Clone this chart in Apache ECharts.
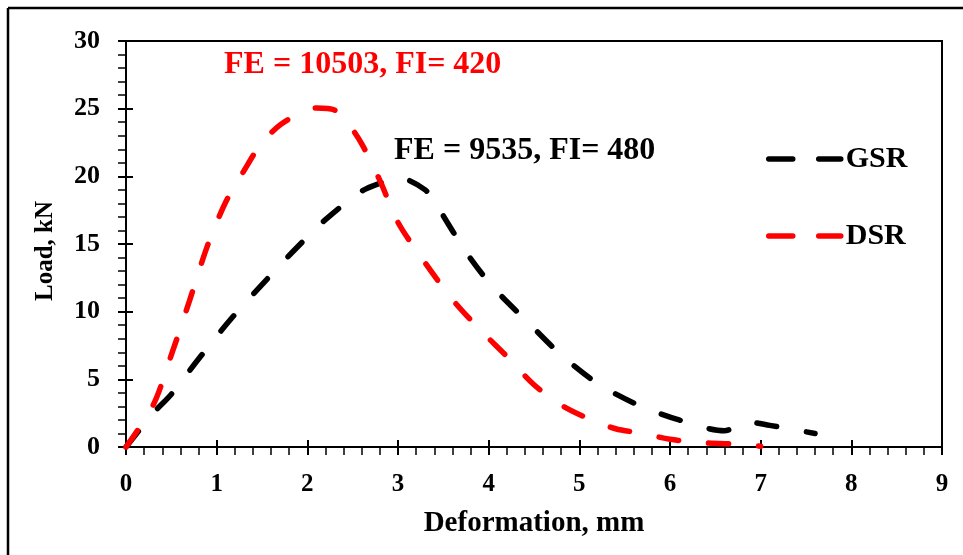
<!DOCTYPE html>
<html>
<head>
<meta charset="UTF-8">
<title>Load vs deformation</title>
<style>
  * { margin: 0; padding: 0; }
  body { background: #fff; }
  #chart { width: 963px; height: 555px; }
</style>
</head>
<body>
<div id="chart"></div>
<script src="https://cdn.jsdelivr.net/npm/echarts@6/dist/echarts.min.js"></script>
<script>
// GSR (black) curve
var gsrX = [0, 0.3, 0.5, 0.8, 1.15, 1.5, 1.85, 2.2, 2.6, 2.85, 3.0, 3.3, 3.45, 3.75, 4.05, 4.45, 4.8, 5.2, 5.65, 6.1, 6.6, 6.85, 7.1, 7.6];
var gsrY = [0, 2.5, 3.9, 6.5, 9.4, 12.0, 14.5, 16.8, 18.9, 19.6, 19.9, 19.0, 17.6, 14.4, 11.8, 9.1, 6.8, 4.7, 3.1, 2.0, 1.2, 1.85, 1.6, 1.0];
// DSR (red) curve
var dsrX = [0, 0.3, 0.5, 0.7, 0.9, 1.1, 1.3, 1.5, 1.7, 1.9, 2.1, 2.3, 2.45, 2.6, 2.8, 3.0, 3.3, 3.6, 3.9, 4.2, 4.5, 4.8, 5.1, 5.4, 5.7, 6.0, 6.4, 6.8, 7.0];
var dsrY = [0, 3.1, 6.8, 10.8, 14.9, 18.1, 20.4, 22.5, 23.8, 24.6, 25.05, 24.9, 23.9, 22.4, 19.7, 16.6, 13.6, 10.9, 8.7, 6.7, 4.6, 3.1, 2.1, 1.35, 1.0, 0.57, 0.3, 0.2, 0.05];

var seriesNames = ['GSR', 'DSR'];
var notes = ['FE = 10503, FI= 420', 'FE = 9535, FI= 480'];

var FONT = "'Liberation Serif', 'Times New Roman', serif";

function pairs(xs, ys) {
  var out = [];
  for (var i = 0; i < xs.length; i++) out.push([xs[i], ys[i]]);
  return out;
}

var chart = echarts.init(document.getElementById('chart'));

var lineCommon = {
  type: 'line',
  smooth: 0.3,
  symbol: 'none',
  xAxisIndex: 0,
  yAxisIndex: 0
};

var option = {
  backgroundColor: '#fff',
  animation: false,
  grid: {
    left: 126, right: 21, top: 41, bottom: 108,
    show: true, borderColor: '#000', borderWidth: 2
  },
  legend: {
    orient: 'vertical',
    left: 761,
    top: 139,
    itemWidth: 72,
    itemHeight: 16,
    itemGap: 47,
    data: seriesNames,
    itemStyle: { opacity: 0 },
    lineStyle: { width: 5.5, type: [24, 26], cap: 'round' },
    textStyle: { fontFamily: FONT, fontWeight: 'bold', fontSize: 30, color: '#000' }
  },
  xAxis: [{
    type: 'value', min: 0, max: 9, interval: 1,
    name: 'Deformation, mm', nameLocation: 'middle', nameGap: 62,
    nameTextStyle: { fontFamily: FONT, fontWeight: 'bold', fontSize: 29, color: '#000' },
    axisLine: { lineStyle: { color: '#000', width: 2 } },
    axisTick: { inside: false, length: 8, lineStyle: { color: '#000', width: 2 } },
    minorTick: { show: true, splitNumber: 5, length: 8, lineStyle: { color: '#000', width: 1.5 } },
    axisLabel: { margin: 25, fontFamily: FONT, fontWeight: 'bold', fontSize: 25, color: '#000' },
    splitLine: { show: false }
  }, {
    // second axis only to draw the inner half of the major ticks
    type: 'value', min: 0, max: 9, interval: 1, position: 'bottom',
    axisLine: { show: false },
    axisTick: { inside: true, length: 7, lineStyle: { color: '#000', width: 2 } },
    axisLabel: { show: false },
    splitLine: { show: false }
  }],
  yAxis: [{
    type: 'value', min: 0, max: 30, interval: 5,
    name: 'Load, kN', nameLocation: 'middle', nameGap: 68,
    nameTextStyle: { fontFamily: FONT, fontWeight: 'bold', fontSize: 25, color: '#000', padding: [0, 14, 0, 0] },
    axisLine: { lineStyle: { color: '#000', width: 2 } },
    axisTick: { inside: false, length: 8, lineStyle: { color: '#000', width: 2 } },
    minorTick: { show: true, splitNumber: 5, length: 8, lineStyle: { color: '#000', width: 1.5 } },
    axisLabel: { margin: 26, fontFamily: FONT, fontWeight: 'bold', fontSize: 26, color: '#000' },
    splitLine: { show: false }
  }, {
    type: 'value', min: 0, max: 30, interval: 5, position: 'left',
    axisLine: { show: false },
    axisTick: { inside: true, length: 7, lineStyle: { color: '#000', width: 2 } },
    axisLabel: { show: false },
    splitLine: { show: false }
  }],
  graphic: [
    { type: 'line', shape: { x1: 8, y1: 8, x2: 963, y2: 8 }, style: { stroke: '#000', lineWidth: 2.5 } },
    { type: 'line', shape: { x1: 8, y1: 8, x2: 8, y2: 555 }, style: { stroke: '#000', lineWidth: 2.5 } },
    { type: 'text', left: 224, top: 49,
      style: { text: notes[0], fill: '#ff0000', font: 'bold 32px ' + FONT } },
    { type: 'text', left: 394, top: 135,
      style: { text: notes[1], fill: '#000', font: 'bold 32px ' + FONT } }
  ],
  series: [
    echarts.util.extend({
      name: seriesNames[0],
      z: 2,
      data: pairs(gsrX, gsrY),
      itemStyle: { color: '#000' },
      lineStyle: { color: '#000', width: 5.5, type: [20, 30], cap: 'round' }
    }, lineCommon),
    echarts.util.extend({
      name: seriesNames[1],
      z: 3,
      data: pairs(dsrX, dsrY),
      itemStyle: { color: '#ff0000' },
      lineStyle: { color: '#ff0000', width: 5.5, type: [20, 30], cap: 'round' }
    }, lineCommon)
  ]
};

chart.setOption(option);
</script>
</body>
</html>
